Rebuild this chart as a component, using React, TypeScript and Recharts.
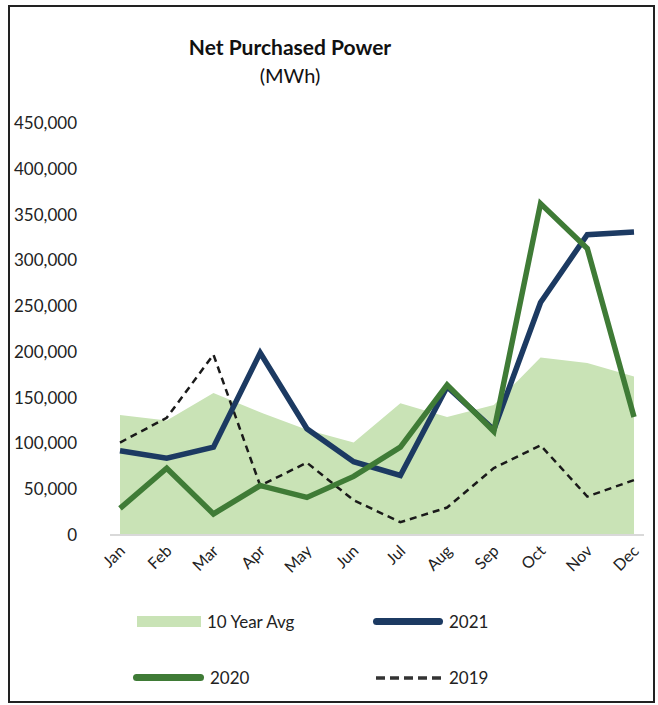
import React from 'react';
import { ComposedChart, Area, Line, XAxis, YAxis } from 'recharts';

const months = ['Jan', 'Feb', 'Mar', 'Apr', 'May', 'Jun', 'Jul', 'Aug', 'Sep', 'Oct', 'Nov', 'Dec'];
const avg10 = [131000, 125000, 155000, 134000, 115000, 101000, 144000, 129000, 142000, 194000, 188000, 173000];
const y2021 = [92000, 84000, 96000, 199000, 116000, 80000, 65000, 162000, 115000, 254000, 328000, 331000];
const y2020 = [29000, 73000, 23000, 54000, 41000, 64000, 96000, 164000, 113000, 362000, 313000, 129000];
const y2019 = [101000, 128000, 197000, 54000, 79000, 38000, 14000, 30000, 73000, 98000, 42000, 60000];
const yTicks = [0, 50000, 100000, 150000, 200000, 250000, 300000, 350000, 400000, 450000];

const data = months.map((m, i) => ({
  month: m,
  avg: avg10[i],
  y2021: y2021[i],
  y2020: y2020[i],
  y2019: y2019[i],
}));

const FONT = 'Lato, "Open Sans", sans-serif';
const AREA_FILL = '#c9e3b6';
const NAVY = '#1c3a62';
const GREEN = '#3f7b36';

const MonthTick = (props: any) => {
  const { x, y, payload } = props;
  return (
    <text
      transform={`translate(${x + 6},${y + 17}) rotate(-45)`}
      textAnchor="end"
      fontSize={16}
      fontFamily={FONT}
      fill="#222"
    >
      {payload.value}
    </text>
  );
};

const legendItem = (swatch: React.ReactNode, label: string, left: number, top: number) => (
  <div style={{ position: 'absolute', left, top, display: 'flex', alignItems: 'center', gap: 6 }}>
    {swatch}
    <span style={{ fontSize: 17, color: '#222' }}>{label}</span>
  </div>
);

export default function App() {
  return (
    <div
      style={{
        position: 'fixed',
        left: 8,
        top: 5,
        width: 647,
        height: 698,
        boxSizing: 'border-box',
        border: '2px solid #222',
        background: '#fff',
        fontFamily: FONT,
      }}
    >
      <div style={{ position: 'absolute', left: 0, width: 560, top: 26, textAlign: 'center', color: '#111' }}>
        <div style={{ fontSize: 21, fontWeight: 700, lineHeight: '28px' }}>Net Purchased Power</div>
        <div style={{ fontSize: 20, lineHeight: '28px' }}>(MWh)</div>
      </div>

      <div style={{ position: 'absolute', left: 0, top: 0 }}>
        <ComposedChart width={643} height={598} data={data} margin={{ top: 116, right: 9, left: 0, bottom: 0 }}>
          <XAxis
            dataKey="month"
            scale="point"
            padding={{ left: 10, right: 10 }}
            height={70}
            tickLine={false}
            tickSize={0}
            tickMargin={0}
            axisLine={{ stroke: '#d9d9d9', strokeWidth: 2 }}
            tick={<MonthTick />}
            interval={0}
          />
          <YAxis
            width={100}
            domain={[0, 450000]}
            ticks={yTicks}
            axisLine={false}
            tickLine={false}
            tickSize={0}
            tickMargin={33}
            tick={{ fontSize: 17, fill: '#222', fontFamily: FONT }}
            tickFormatter={(v: number) => v.toLocaleString('en-US')}
          />
          <Area
            dataKey="avg"
            type="linear"
            fill={AREA_FILL}
            fillOpacity={1}
            stroke="none"
            isAnimationActive={false}
          />
          <Line
            dataKey="y2019"
            type="linear"
            stroke="#1a1a1a"
            strokeWidth={2.5}
            strokeDasharray="7 5"
            dot={false}
            isAnimationActive={false}
          />
          <Line
            dataKey="y2021"
            type="linear"
            stroke={NAVY}
            strokeWidth={5.5}
            dot={false}
            isAnimationActive={false}
          />
          <Line
            dataKey="y2020"
            type="linear"
            stroke={GREEN}
            strokeWidth={5.5}
            dot={false}
            isAnimationActive={false}
          />
        </ComposedChart>
      </div>

      {legendItem(
        <div style={{ width: 64, height: 11, background: AREA_FILL }} />,
        '10 Year Avg', 127, 604
      )}
      {legendItem(
        <div style={{ width: 70, height: 7, borderRadius: 4, background: NAVY }} />,
        '2021', 363, 604
      )}
      {legendItem(
        <div style={{ width: 71, height: 7, borderRadius: 4, background: GREEN }} />,
        '2020', 123, 660
      )}
      {legendItem(
        <svg width={68} height={6}>
          <line x1={1} y1={3} x2={67} y2={3} stroke="#333" strokeWidth={3.5} strokeDasharray="9 5" />
        </svg>,
        '2019', 365, 660
      )}
    </div>
  );
}
